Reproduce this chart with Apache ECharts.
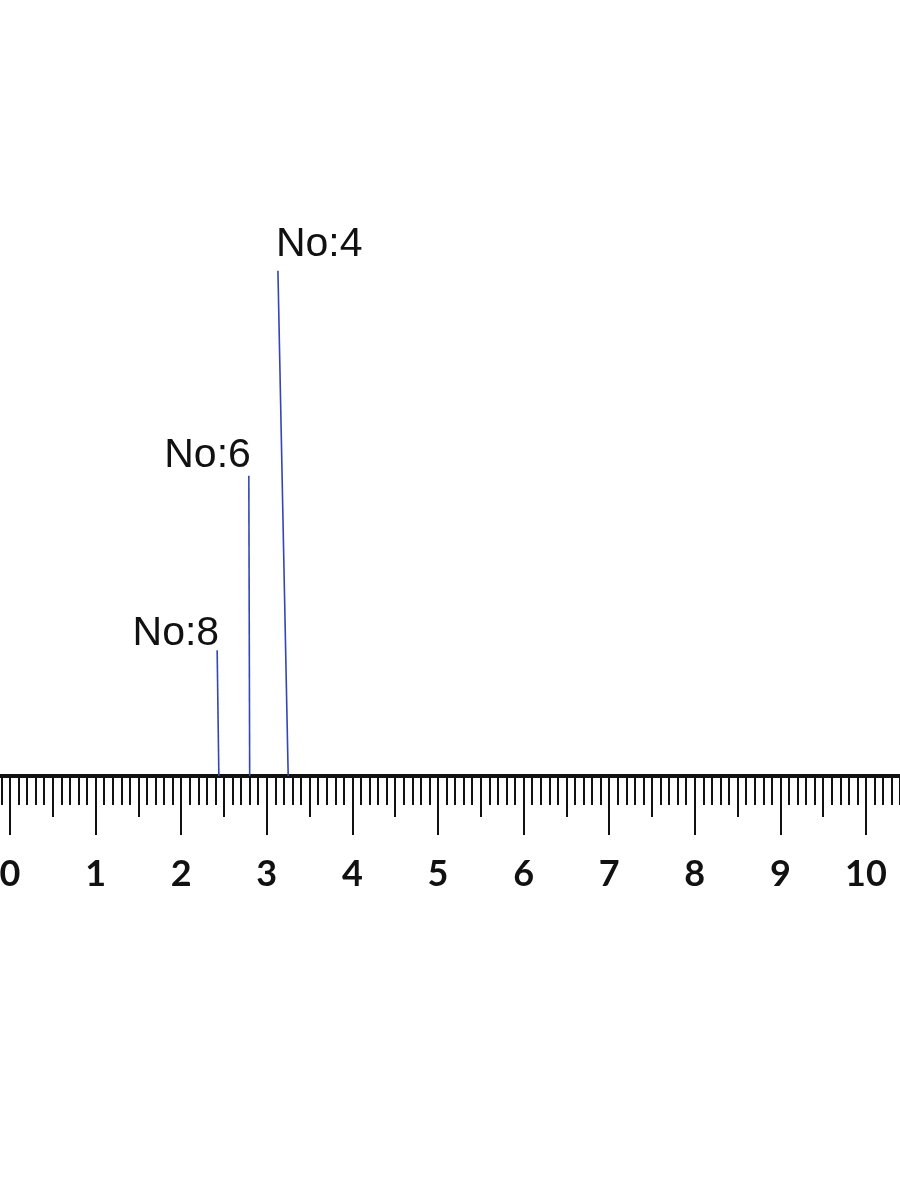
<!DOCTYPE html>
<html><head><meta charset="utf-8">
<script src="https://cdn.jsdelivr.net/npm/echarts@6/dist/echarts.min.js"></script>
<style>html,body{margin:0;padding:0;background:#fff}#c{width:900px;height:1200px}</style>
</head><body><div id="c"></div>
<script>
// data
const markerNames = ['No:8', 'No:6', 'No:4'];
const baseX = [2.44, 2.80, 3.25];
const topX = [2.42, 2.79, 3.13];
const heights = [16.2, 38.7, 65.1];
const majorTicks = [0,1,2,3,4,5,6,7,8,9,10];

const chart = echarts.init(document.getElementById('c'), null, {renderer:'canvas'});
const PX = 85.6, ZERO = 10, BASE = 776, H = 1200;
function gridFor(min, max){ return {left: ZERO + min*PX, width: (max-min)*PX, top: 0, bottom: H - BASE,
  containLabel:false, outerBoundsMode:'none'}; }

const labelCfg = [
  {align:'right', offset:[2, 4]},
  {align:'right', offset:[2, 0]},
  {align:'left', offset:[-2, -6]}
];

const series = markerNames.map((n,i)=>({
  type:'line', xAxisIndex:0, yAxisIndex:0,
  symbol:'circle', symbolSize:0, showSymbol:true, animation:false, silent:true,
  lineStyle:{color:'#3445b5', width:1.6},
  data:[
    {value:[baseX[i],0], label:{show:false}},
    {value:[topX[i],heights[i]], label:{show:true, formatter:n, position:'top', distance:0,
      align:labelCfg[i].align, verticalAlign:'bottom', offset:labelCfg[i].offset,
      fontFamily:'Liberation Sans, Arial, sans-serif', fontSize:41, color:'#111'}}
  ]
}));

const option = {
  backgroundColor:'#fff',
  animation:false,
  grid:[gridFor(-0.2,10.5), gridFor(0,10), gridFor(0,10)],
  xAxis:[
    {gridIndex:0, type:'value', min:-0.2, max:10.5, interval:0.1, position:'bottom',
     axisLine:{show:true, lineStyle:{color:'#111', width:4}},
     axisTick:{show:true, length:29, lineStyle:{color:'#111', width:2}},
     axisLabel:{show:false}, splitLine:{show:false}},
    {gridIndex:1, type:'value', min:0, max:10, interval:0.5, position:'bottom',
     axisLine:{show:false},
     axisTick:{show:true, length:41, lineStyle:{color:'#111', width:2}},
     axisLabel:{show:false}, splitLine:{show:false}},
    {gridIndex:2, type:'value', min:majorTicks[0], max:majorTicks[majorTicks.length-1], interval:1, position:'bottom',
     axisLine:{show:false},
     axisTick:{show:true, length:59, lineStyle:{color:'#111', width:2}},
     axisLabel:{show:true, margin:80, fontFamily:'Lato, sans-serif', fontWeight:'bold', fontSize:36, color:'#111',
       verticalAlign:'top', hideOverlap:false, showMinLabel:true, showMaxLabel:true, formatter:v=>String(v)},
     splitLine:{show:false}}
  ],
  yAxis:[
    {gridIndex:0, type:'value', min:0, max:100, show:false},
    {gridIndex:1, type:'value', min:0, max:100, show:false},
    {gridIndex:2, type:'value', min:0, max:100, show:false}
  ],
  series: series
};
chart.setOption(option);
</script></body></html>
